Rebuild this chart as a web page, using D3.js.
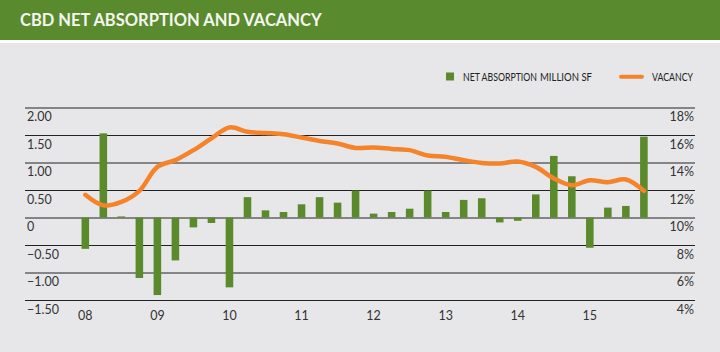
<!DOCTYPE html>
<html>
<head>
<meta charset="utf-8">
<script src="https://cdn.jsdelivr.net/npm/d3@7"></script>
<style>
  body { margin: 0; background: #e7e7e9; }
  svg { display: block; font-family: Lato, 'Open Sans', sans-serif; }
</style>
</head>
<body>
<div id="chart"></div>
<script>
const years = ['08', '09', '10', '11', '12', '13', '14', '15']
const quarters = years.flatMap(y => ['Q1', 'Q2', 'Q3', 'Q4'].map(q => y + q))

// net absorption, million sf, one per quarter
const absorption = [
  -0.57, 1.53, 0.02, -1.1, -1.41, -0.78, -0.18, -0.1,
  -1.27, 0.37, 0.13, 0.1, 0.24, 0.37, 0.27, 0.49,
  0.07, 0.1, 0.16, 0.49, 0.1, 0.32, 0.35, -0.09,
  -0.06, 0.42, 1.12, 0.75, -0.55, 0.18, 0.21, 1.47
]

// vacancy %, one per quarter
const vacancy = [
  11.65, 10.88, 11.13, 11.94, 13.68, 14.17, 14.9, 15.75,
  16.55, 16.23, 16.15, 16.06, 15.82, 15.57, 15.38, 15.06,
  15.09, 14.99, 14.9, 14.51, 14.41, 14.17, 13.97, 13.93,
  14.07, 13.68, 12.84, 12.35, 12.71, 12.57, 12.76, 11.94
]

const leftTicks = [-1.5, -1, -0.5, 0, 0.5, 1, 1.5, 2]
const rightTicks = [4, 6, 8, 10, 12, 14, 16, 18]

const width = 720
const height = 352
const green = '#5b8a2d'
const orange = '#f5832a'

const svg = d3
  .select('#chart')
  .append('svg')
  .attr('width', width)
  .attr('height', height)

// header band
svg.append('rect')
  .attr('width', width)
  .attr('height', 40)
  .attr('fill', '#5a8a2e')
svg.append('rect')
  .attr('y', 40)
  .attr('width', width)
  .attr('height', 3)
  .attr('fill', '#ffffff')
svg.append('text')
  .attr('x', 20)
  .attr('y', 26)
  .attr('fill', '#f4f7ee')
  .attr('font-size', 16.5)
  .attr('font-weight', 700)
  .text('CBD NET ABSORPTION AND VACANCY')

const plotLeft = 25
const plotRight = 695

const xPositionScale = d3
  .scaleBand()
  .domain(quarters)
  .range([76.3, 652.9])
  .paddingInner(0.58)
  .paddingOuter(0.29)

const yLeft = d3.scaleLinear().domain([-1.5, 2]).range([300, 107.5])
const yRight = d3.scaleLinear().domain([4, 18]).range([300, 107.5])

// left axis with gridlines
const leftAxis = d3
  .axisRight(yLeft)
  .tickValues(leftTicks)
  .tickSize(plotRight - plotLeft)
  .tickFormat(d => d === 0 ? '0' : d3.format('.2f')(d))

const gLeft = svg.append('g')
  .attr('class', 'axis y-left')
  .attr('transform', `translate(${plotLeft},0)`)
  .call(leftAxis)
gLeft.select('.domain').remove()
gLeft.selectAll('line').attr('stroke', '#222').attr('stroke-width', 1)
gLeft.selectAll('text')
  .attr('x', 2)
  .attr('dy', 13)
  .attr('text-anchor', 'start')
  .attr('font-size', 12.5)
  .attr('font-family', 'Lato, sans-serif')
  .attr('fill', '#333')

// right axis labels
const rightAxis = d3
  .axisLeft(yRight)
  .tickValues(rightTicks)
  .tickSize(0)
  .tickFormat(d => d + '%')

const gRight = svg.append('g')
  .attr('class', 'axis y-right')
  .attr('transform', `translate(${plotRight},0)`)
  .call(rightAxis)
gRight.select('.domain').remove()
gRight.selectAll('text')
  .attr('x', -1)
  .attr('dy', 13)
  .attr('text-anchor', 'end')
  .attr('font-size', 12.5)
  .attr('font-family', 'Lato, sans-serif')
  .attr('fill', '#333')

// x axis: year labels under Q1
const xAxis = d3
  .axisBottom(xPositionScale)
  .tickValues(years.map(y => y + 'Q1'))
  .tickSize(0)
  .tickFormat(d => d.slice(0, 2))

const gX = svg.append('g')
  .attr('class', 'axis x-axis')
  .attr('transform', 'translate(0,300)')
  .call(xAxis)
gX.select('.domain').remove()
gX.selectAll('text')
  .attr('dy', 17)
  .attr('font-size', 12.5)
  .attr('font-family', 'Lato, sans-serif')
  .attr('fill', '#333')

// bars
svg.append('g')
  .selectAll('rect')
  .data(absorption)
  .enter()
  .append('rect')
  .attr('x', (d, i) => xPositionScale(quarters[i]))
  .attr('width', xPositionScale.bandwidth())
  .attr('y', d => yLeft(Math.max(0, d)))
  .attr('height', d => Math.abs(yLeft(d) - yLeft(0)))
  .attr('fill', green)

// vacancy line
const line = d3
  .line()
  .x((d, i) => xPositionScale(quarters[i]) + xPositionScale.bandwidth() / 2)
  .y(d => yRight(d))
  .curve(d3.curveCatmullRom.alpha(0.5))

svg.append('path')
  .datum(vacancy)
  .attr('d', line)
  .attr('fill', 'none')
  .attr('stroke', orange)
  .attr('stroke-width', 4.5)
  .attr('stroke-linecap', 'round')

// legend - condensed look by squeezing text horizontally
const legend = svg.append('g').attr('font-size', 11.5).attr('fill', '#222')

function squeezedText(x, label, targetWidth) {
  const t = legend.append('text').text(label)
  const natural = t.node().getComputedTextLength()
  t.attr('transform', `translate(${x},81) scale(${targetWidth / natural},1)`)
}

legend.append('rect')
  .attr('x', 446)
  .attr('y', 72.5)
  .attr('width', 8)
  .attr('height', 8)
  .attr('fill', green)
squeezedText(463, 'NET ABSORPTION', 74)
squeezedText(540, 'MILLION SF', 52)
legend.append('line')
  .attr('x1', 621)
  .attr('x2', 642)
  .attr('y1', 76.7)
  .attr('y2', 76.7)
  .attr('stroke', orange)
  .attr('stroke-width', 4)
  .attr('stroke-linecap', 'round')
squeezedText(652, 'VACANCY', 41)
</script>
</body>
</html>
